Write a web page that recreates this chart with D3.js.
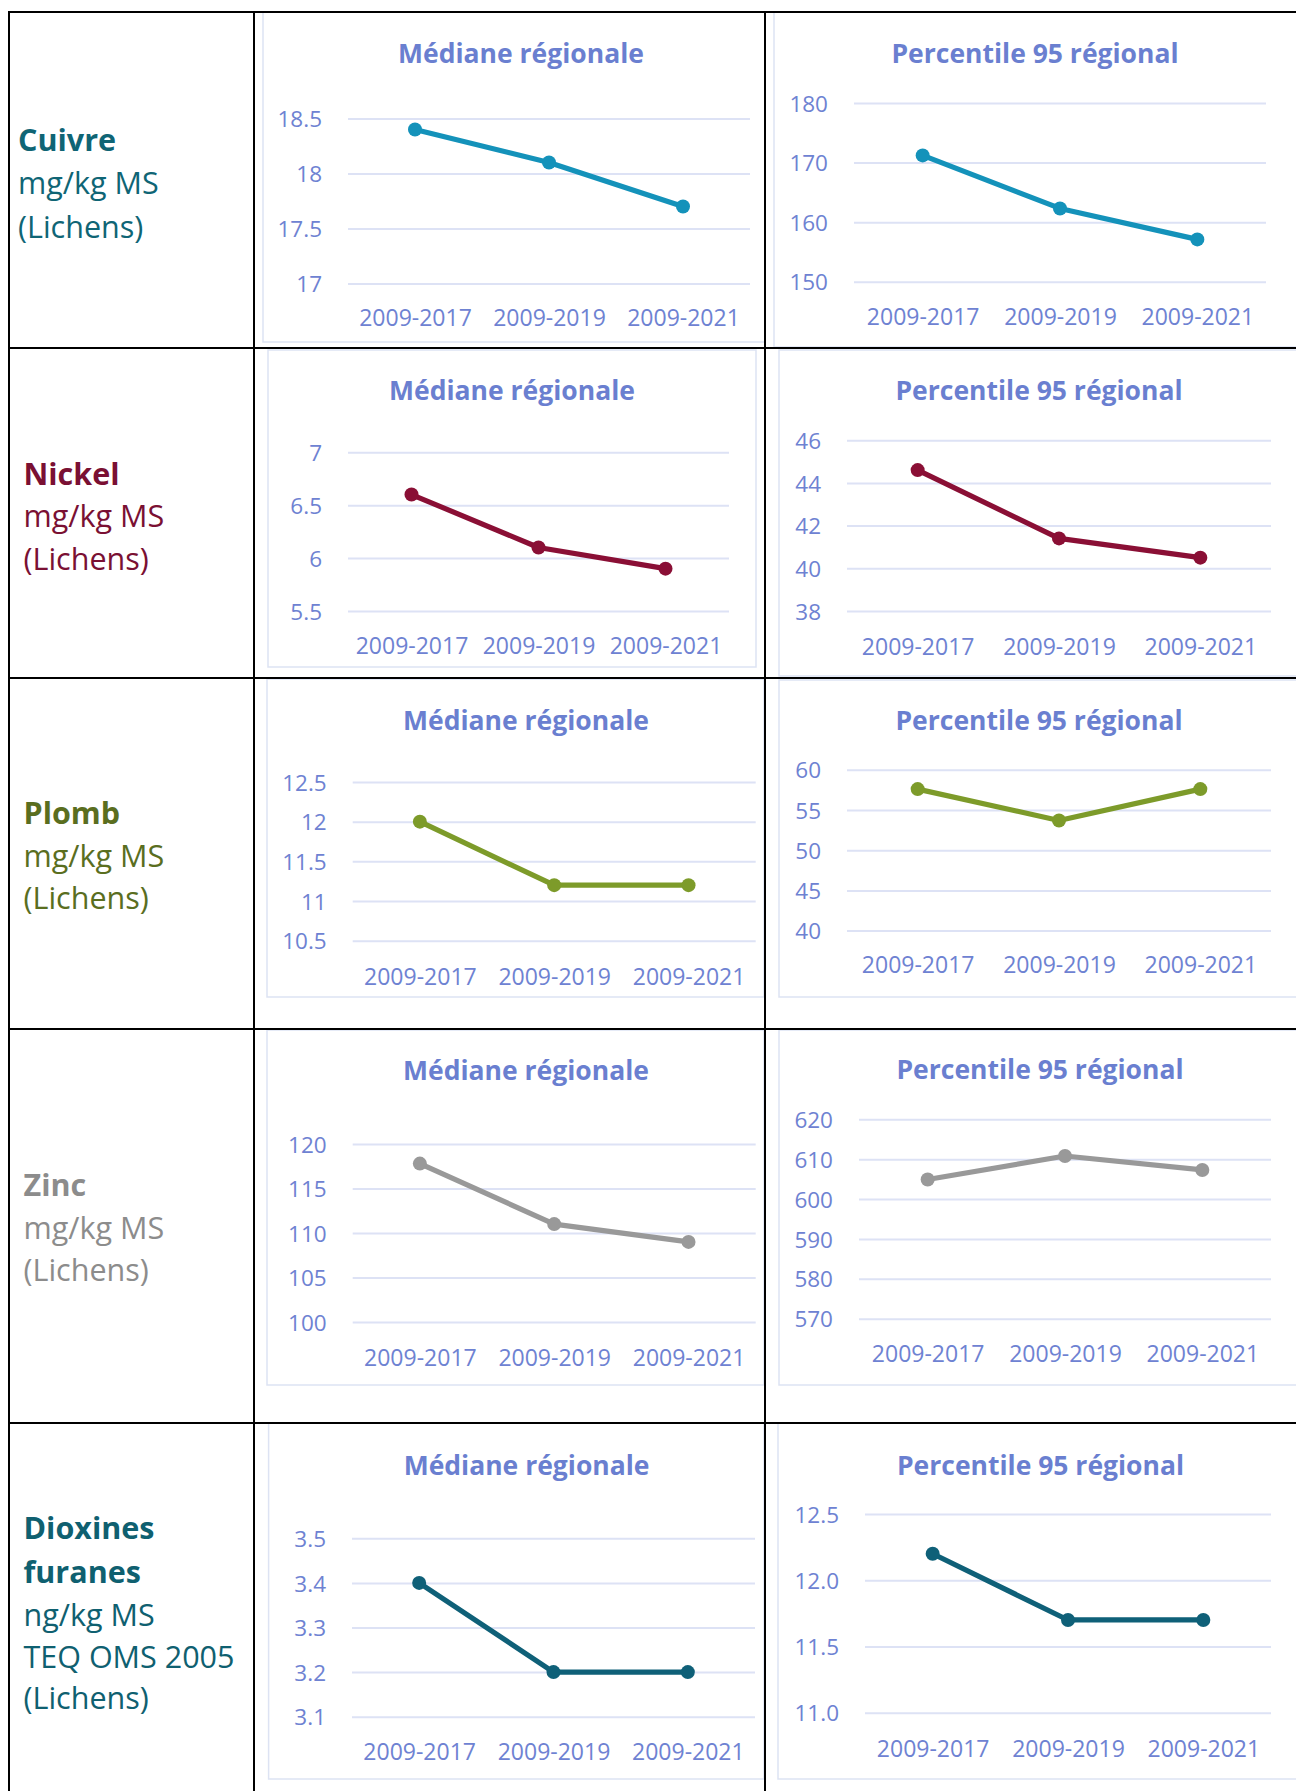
<!DOCTYPE html>
<html>
<head>
<meta charset="utf-8">
<script src="https://cdn.jsdelivr.net/npm/d3@7"></script>
<style>
  html, body { margin: 0; padding: 0; background: #ffffff; }
  svg { display: block; }
  text { font-family: "Open Sans", "Noto Sans", sans-serif; }
</style>
</head>
<body>
<svg id="chart" width="1296" height="1791"></svg>
<script>
// ---------------- DATA ----------------
const categories = ["2009-2017", "2009-2019", "2009-2021"];

const chartTitles = ["Médiane régionale", "Percentile 95 régional"];

const cuivreLabel   = ["Cuivre", "mg/kg MS", "(Lichens)"];
const nickelLabel   = ["Nickel", "mg/kg MS", "(Lichens)"];
const plombLabel    = ["Plomb", "mg/kg MS", "(Lichens)"];
const zincLabel     = ["Zinc", "mg/kg MS", "(Lichens)"];
const dioxinesLabel = ["Dioxines", "furanes", "ng/kg MS", "TEQ OMS 2005", "(Lichens)"];

const cuivreMedian = [18.4, 18.1, 17.7];
const cuivreP95    = [171.2, 162.3, 157.1];
const nickelMedian = [6.6, 6.1, 5.9];
const nickelP95    = [44.6, 41.4, 40.5];
const plombMedian  = [12.0, 11.2, 11.2];
const plombP95     = [57.6, 53.7, 57.6];
const zincMedian   = [117.8, 111.0, 109.0];
const zincP95      = [604.9, 610.8, 607.3];
const dioxMedian   = [3.4, 3.2, 3.2];
const dioxP95      = [12.2, 11.7, 11.7];

const cuivreMedianTicks = [17, 17.5, 18, 18.5];
const cuivreP95Ticks    = [150, 160, 170, 180];
const nickelMedianTicks = [5.5, 6, 6.5, 7];
const nickelP95Ticks    = [38, 40, 42, 44, 46];
const plombMedianTicks  = [10.5, 11, 11.5, 12, 12.5];
const plombP95Ticks     = [40, 45, 50, 55, 60];
const zincMedianTicks   = [100, 105, 110, 115, 120];
const zincP95Ticks      = [570, 580, 590, 600, 610, 620];
const dioxMedianTicks   = [3.1, 3.2, 3.3, 3.4, 3.5];
const dioxP95Ticks      = [11.0, 11.5, 12.0, 12.5];

// ---------------- STYLE / LAYOUT ----------------
const axisColor = "#6e82d2";
const titleColor = "#6a7fd0";
const gridColor = "#dde2f5";
const boxColor = "#dde3f3";

const rows = [
  { label: cuivreLabel, labelColor: "#0f6575", lineColor: "#1492ba", lx: 18, ly: [140, 183, 226.7],
    charts: [
      { values: cuivreMedian, ticks: cuivreMedianTicks, fmt: d3.format(""), title: 0,
        box: [263, 12, 765, 342], px: [348, 750], py: [283.5, 118.5], tx: 521, ty: 53, xly: 318 },
      { values: cuivreP95, ticks: cuivreP95Ticks, fmt: d3.format(""), title: 1,
        box: [774, 12, 1310, 347], px: [854, 1266], py: [281.7, 103], tx: 1035, ty: 53, xly: 317 }
    ]},
  { label: nickelLabel, labelColor: "#7a1033", lineColor: "#8a0f35", lx: 23.5, ly: [474, 516, 558.8],
    charts: [
      { values: nickelMedian, ticks: nickelMedianTicks, fmt: d3.format(""), title: 0,
        box: [268, 350, 756, 667], px: [348, 729], py: [611, 452.2], tx: 512, ty: 390.5, xly: 646 },
      { values: nickelP95, ticks: nickelP95Ticks, fmt: d3.format(""), title: 1,
        box: [779, 350, 1310, 676], px: [847, 1271], py: [611, 440.2], tx: 1039, ty: 390, xly: 646.6 }
    ]},
  { label: plombLabel, labelColor: "#5a6e1f", lineColor: "#7d9b2a", lx: 23.5, ly: [813, 855.6, 898],
    charts: [
      { values: plombMedian, ticks: plombMedianTicks, fmt: d3.format(""), title: 0,
        box: [267, 679, 764, 997], px: [352.7, 755.7], py: [940.7, 782], tx: 526, ty: 720, xly: 976.7 },
      { values: plombP95, ticks: plombP95Ticks, fmt: d3.format(""), title: 1,
        box: [779, 680, 1310, 997], px: [847, 1271], py: [930.6, 769.8], tx: 1039, ty: 720, xly: 964.5 }
    ]},
  { label: zincLabel, labelColor: "#8c8c8c", lineColor: "#999999", lx: 23.5, ly: [1185, 1227.6, 1270],
    charts: [
      { values: zincMedian, ticks: zincMedianTicks, fmt: d3.format(""), title: 0,
        box: [267, 1030, 764, 1385], px: [352.7, 755.7], py: [1322, 1144], tx: 526, ty: 1070, xly: 1358 },
      { values: zincP95, ticks: zincP95Ticks, fmt: d3.format(""), title: 1,
        box: [779, 1030, 1310, 1385], px: [859, 1271], py: [1318.7, 1119.3], tx: 1040, ty: 1069.3, xly: 1353.3 }
    ]},
  { label: dioxinesLabel, labelColor: "#0f6070", lineColor: "#0f6078", lx: 23.5, ly: [1528, 1571.7, 1615, 1656.7, 1698], boldLines: 2,
    charts: [
      { values: dioxMedian, ticks: dioxMedianTicks, fmt: d3.format(""), title: 0,
        box: [268.6, 1423, 764, 1779], px: [352, 755], py: [1716.7, 1538.3], tx: 526.6, ty: 1465, xly: 1751.7 },
      { values: dioxP95, ticks: dioxP95Ticks, fmt: d3.format(".1f"), title: 1,
        box: [778, 1423, 1310, 1779], px: [865, 1271], py: [1712.7, 1514], tx: 1040.5, ty: 1465, xly: 1748.3 }
    ]}
];

const svg = d3.select("#chart");

// ---------- charts ----------
rows.forEach(row => {
  row.charts.forEach(c => {
    const g = svg.append("g");
    const [bx0, by0, bx1, by1] = c.box;
    g.append("rect")
      .attr("x", bx0).attr("y", by0)
      .attr("width", bx1 - bx0).attr("height", by1 - by0)
      .attr("fill", "#ffffff").attr("stroke", boxColor).attr("stroke-width", 1.5);

    const x = d3.scalePoint().domain(categories).range(c.px).padding(0.5);
    const y = d3.scaleLinear().domain(d3.extent(c.ticks)).range(c.py);

    // gridlines + y labels via axis
    const yAxis = d3.axisLeft(y).tickValues(c.ticks).tickFormat(c.fmt)
      .tickSize(-(c.px[1] - c.px[0])).tickPadding(26);
    const ya = g.append("g").attr("transform", `translate(${c.px[0]},0)`).call(yAxis);
    ya.select(".domain").remove();
    ya.selectAll(".tick line").attr("stroke", gridColor).attr("stroke-width", 2);
    ya.selectAll(".tick text").attr("fill", axisColor).attr("font-size", 22.5)
      .attr("font-family", "Open Sans, Noto Sans, sans-serif").attr("dy", "0.36em");

    // x labels via axis
    const xAxis = d3.axisBottom(x).tickSize(0).tickPadding(0);
    const xa = g.append("g").attr("transform", `translate(0,${c.xly})`).call(xAxis);
    xa.select(".domain").remove();
    xa.selectAll(".tick text").attr("fill", axisColor).attr("font-size", 23)
      .attr("font-family", "Open Sans, Noto Sans, sans-serif").attr("dy", "0.36em");

    // title
    g.append("text").attr("x", c.tx).attr("y", c.ty).attr("dy", "0.36em")
      .attr("text-anchor", "middle").attr("fill", titleColor)
      .attr("font-size", 26.5).attr("font-weight", 700)
      .text(chartTitles[c.title]);

    // line
    const pts = categories.map((k, i) => [x(k), y(c.values[i])]);
    g.append("path").datum(pts)
      .attr("d", d3.line())
      .attr("fill", "none").attr("stroke", row.lineColor)
      .attr("stroke-width", 5.2).attr("stroke-linejoin", "round");
    g.selectAll("circle.pt").data(pts).enter().append("circle")
      .attr("class", "pt")
      .attr("cx", d => d[0]).attr("cy", d => d[1]).attr("r", 7)
      .attr("fill", row.lineColor);
  });

  // row label
  const nb = row.boldLines || 1;
  row.label.forEach((t, i) => {
    svg.append("text").attr("x", row.lx).attr("y", row.ly[i]).attr("dy", "0.36em")
      .attr("fill", row.labelColor).attr("font-size", 30.5)
      .attr("font-weight", i < nb ? 700 : 400)
      .text(t);
  });
});

// ---------- table grid ----------
const vLines = [9, 254, 765];
const hLines = [12, 348, 678, 1029, 1423];
const tg = svg.append("g");
vLines.forEach(v => tg.append("line").attr("x1", v).attr("x2", v).attr("y1", 11).attr("y2", 1800)
  .attr("stroke", "#000").attr("stroke-width", 2));
hLines.forEach(h => tg.append("line").attr("x1", 8).attr("x2", 1310).attr("y1", h).attr("y2", h)
  .attr("stroke", "#000").attr("stroke-width", 2));
</script>
</body>
</html>
